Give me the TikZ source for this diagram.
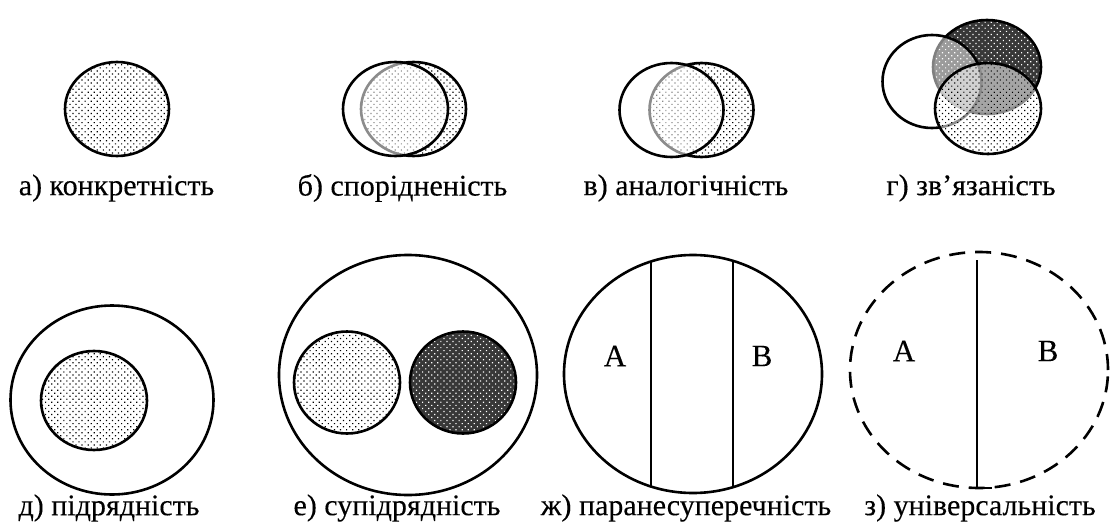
\documentclass[tikz,border=0pt]{standalone}
\usepackage{fontspec}
\setmainfont{Liberation Serif}
\newfontfamily\capfont{Liberation Serif}[FakeBold=0.2]
\usetikzlibrary{patterns.meta}
\tikzset{
  outline/.style={draw=black, line width=2.6pt},
  lightdots/.style={pattern={Dots[distance=4.3pt,radius=0.85pt,angle=45]}, pattern color=black},
  whitedots/.style={pattern={Dots[distance=4.3pt,radius=0.85pt,angle=45]}, pattern color=white},
  darkfill/.style={fill=black!78},
  veil/.style={fill=white, fill opacity=0.55},
  caption/.style={font=\capfont\fontsize{30}{32}\selectfont, inner sep=0pt, anchor=center},
  letter/.style={font=\capfont\fontsize{31}{33}\selectfont, inner sep=0pt, anchor=center},
  dashedline/.style={draw=black, line width=2.6pt, dash pattern=on 16pt off 10pt}
}
\begin{document}
\begin{tikzpicture}[x=1pt,y=-1pt]
\useasboundingbox[fill=white] (0,0) rectangle (1113,527);

% a) concreteness
\fill[white] (117,109) ellipse [x radius=52pt, y radius=47pt];
\fill[lightdots] (117,109) ellipse [x radius=52pt, y radius=47pt];
\draw[outline] (117,109) ellipse [x radius=52pt, y radius=47pt];
\node[caption] (la) at (116.5,188) {а) конкретність};

% b) kinship
\fill[white] (413.5,109) ellipse [x radius=52.5pt, y radius=47pt];
\fill[lightdots] (413.5,109) ellipse [x radius=52.5pt, y radius=47pt];
\draw[outline] (413.5,109) ellipse [x radius=52.5pt, y radius=47pt];
\fill[veil] (395.5,109) ellipse [x radius=52.5pt, y radius=47pt];
\draw[outline] (395.5,109) ellipse [x radius=52.5pt, y radius=47pt];
\node[caption] (lb) at (402.5,188) {б) спорідненість};

% c) analogy
\fill[white] (701.5,110) ellipse [x radius=52pt, y radius=47pt];
\fill[lightdots] (701.5,110) ellipse [x radius=52pt, y radius=47pt];
\draw[outline] (701.5,110) ellipse [x radius=52pt, y radius=47pt];
\fill[veil] (671.5,110) ellipse [x radius=52pt, y radius=47pt];
\draw[outline] (671.5,110) ellipse [x radius=52pt, y radius=47pt];
\node[caption] (lc) at (686,188) {в) аналогічність};

% g) connectedness
\fill[darkfill] (987,67) ellipse [x radius=54pt, y radius=47pt];
\fill[whitedots] (987,67) ellipse [x radius=54pt, y radius=47pt];
\draw[outline] (987,67) ellipse [x radius=54pt, y radius=47pt];
\fill[white, fill opacity=0.5] (932,81.5) ellipse [x radius=49.5pt, y radius=46.5pt];
\draw[outline] (932,81.5) ellipse [x radius=49.5pt, y radius=46.5pt];
\fill[veil] (988,108.5) ellipse [x radius=53pt, y radius=45.5pt];
\fill[lightdots] (988,108.5) ellipse [x radius=53pt, y radius=45.5pt];
\draw[outline] (988,108.5) ellipse [x radius=53pt, y radius=45.5pt];
\node[caption] (ld) at (971,188) {г) зв’язаність};

% d) subordination
\draw[outline] (112,400) ellipse [x radius=101.5pt, y radius=94.5pt];
\fill[white] (94,400.5) ellipse [x radius=53pt, y radius=49.5pt];
\fill[lightdots] (94,400.5) ellipse [x radius=53pt, y radius=49.5pt];
\draw[outline] (94,400.5) ellipse [x radius=53pt, y radius=49.5pt];
\node[caption] (le) at (109,508) {д) підрядність};

% e) co-subordination
\draw[outline] (408,375) ellipse [x radius=129pt, y radius=120pt];
\fill[white] (347,382.5) ellipse [x radius=53pt, y radius=51pt];
\fill[lightdots] (347,382.5) ellipse [x radius=53pt, y radius=51pt];
\draw[outline] (347,382.5) ellipse [x radius=53pt, y radius=51pt];
\fill[darkfill] (463,382.5) ellipse [x radius=53pt, y radius=51pt];
\fill[whitedots] (463,382.5) ellipse [x radius=53pt, y radius=51pt];
\draw[outline] (463,382.5) ellipse [x radius=53pt, y radius=51pt];
\node[caption] (lf) at (397,508) {е) супідрядність};

% zh) paraconsistency
\begin{scope}
\clip (693,374) ellipse [x radius=129pt, y radius=119pt];
\draw[outline] (651,240) -- (651,510);
\draw[outline] (733,240) -- (733,510);
\end{scope}
\draw[outline] (693,374) ellipse [x radius=129pt, y radius=119pt];
\node[letter] (za) at (615,356) {A};
\node[letter] (zb) at (762,356) {B};
\node[caption] (lg) at (686,508) {ж) паранесуперечність};

% z) universality
\draw[dashedline] (979,370) ellipse [x radius=129pt, y radius=118pt];
\coordinate (zt) at (977,260);
\coordinate (zbot) at (977,488);
\coordinate (zend) at (992,488);
\draw[outline] (zt) -- (zbot) -- (zend);
\node[letter] (ya) at (904,351) {A};
\node[letter] (yb) at (1048,351) {B};
\node[caption] (lh) at (980,508) {з) універсальність};
\end{tikzpicture}
\end{document}
